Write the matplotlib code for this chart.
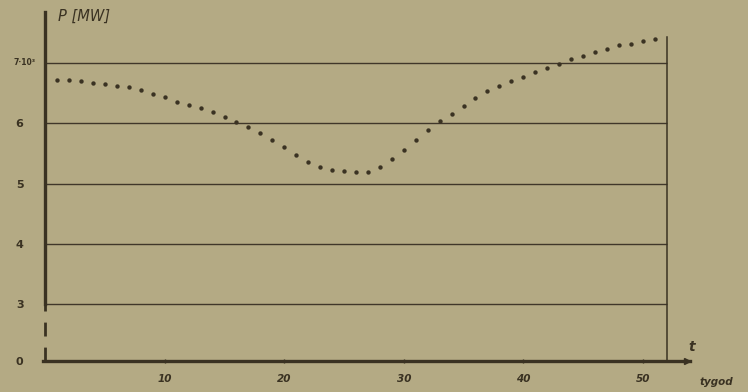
import numpy as np
import matplotlib
matplotlib.use("Agg")
import matplotlib.pyplot as plt
import matplotlib.transforms as mtransforms

# ---- data ----
weeks = list(range(1, 52))
power = [6.72, 6.71, 6.70, 6.67, 6.65, 6.62, 6.60, 6.55, 6.49, 6.43,
         6.35, 6.30, 6.25, 6.19, 6.10, 6.02, 5.93, 5.83, 5.72, 5.60,
         5.47, 5.36, 5.28, 5.22, 5.20, 5.19, 5.19, 5.27, 5.40, 5.56,
         5.72, 5.88, 6.03, 6.16, 6.28, 6.42, 6.54, 6.61, 6.70, 6.77,
         6.85, 6.91, 6.99, 7.06, 7.12, 7.18, 7.23, 7.30, 7.32, 7.37, 7.40]
y_ticks = [0, 3, 4, 5, 6, 7]
y_tick_labels = ["0", "3", "4", "5", "6", "7·10³"]
x_ticks = [10, 20, 30, 40, 50]
x_tick_labels = ["10", "20", "30", "40", "50"]
grid_levels = [3, 4, 5, 6, 7]
x_end = 52  # right border (week 52)

BG = "#b4aa84"
INK = "#3a3222"

# broken y axis: 0..3 compressed
def fwd(v):
    v = np.asarray(v, dtype=float)
    return np.where(v >= 3, v - 2, 1 - (3 - v) * 0.315)

def inv(d):
    d = np.asarray(d, dtype=float)
    return np.where(d >= 1, d + 2, 3 - (1 - d) / 0.315)

W, H = 748, 392
fig = plt.figure(figsize=(W / 100, H / 100), dpi=100, facecolor=BG)
ax = fig.add_axes([43 / W, 1 - 361 / H, (690 - 43) / W, (361 - 12) / H])
ax.set_facecolor(BG)
ax.set_yscale("function", functions=(fwd, inv))
ax.set_xlim(-0.19, 53.95)
ax.set_ylim(0, 7.846)

for s in ["top", "right", "left"]:
    ax.spines[s].set_visible(False)
ax.spines["bottom"].set_color(INK)
ax.spines["bottom"].set_linewidth(2.4)

# grid lines up to right border
for g in grid_levels:
    ax.plot([0, x_end], [g, g], color="#40372a", lw=1.0, solid_capstyle="butt", zorder=1)
# right border
ax.plot([x_end, x_end], [0, 7.43], color=INK, lw=1.1, zorder=1)

# left axis: solid above 3, broken below
ax.plot([0, 0], [3, 7.846], color=INK, lw=2.4, clip_on=False, zorder=3)
ax.plot([0, 0], [0, 3], color=INK, lw=2.0, dashes=(5, 4), clip_on=False, zorder=3)
# arrow on x axis
ax.plot([53.7], [0], marker=">", ms=5, color=INK, clip_on=False, zorder=4)

# data dots
ax.scatter(weeks, power, s=10, color=INK, zorder=5, linewidths=0)

# ticks
ax.set_yticks(y_ticks)
ax.set_yticklabels(y_tick_labels)
ax.yaxis.set_minor_locator(matplotlib.ticker.NullLocator())
ax.tick_params(axis="y", length=0, pad=14, labelsize=8, labelcolor=INK)
for lab in ax.get_yticklabels():
    lab.set_fontweight("bold")
last = ax.get_yticklabels()[-1]
last.set_fontsize(5.5)
last.set_transform(last.get_transform() + mtransforms.ScaledTranslation(12 / 100, 1 / 100, fig.dpi_scale_trans))

ax.set_xticks(x_ticks)
ax.set_xticklabels(x_tick_labels)
ax.tick_params(axis="x", length=3, direction="inout", width=1, color=INK,
               pad=8, labelsize=7.5, labelcolor=INK)
for lab in ax.get_xticklabels():
    lab.set_fontweight("bold")
    lab.set_fontstyle("italic")

# axis titles
fig.text(58 / W, 1 - 16 / H, "P [MW]", fontsize=10.5, style="italic", color=INK,
         ha="left", va="center")
fig.text(688 / W, 1 - 347 / H, "t", fontsize=10, style="italic", fontweight="bold",
         color=INK, ha="left", va="center")
fig.text(700 / W, 1 - 382 / H, "tygod", fontsize=7.5, style="italic", fontweight="bold",
         color=INK, ha="left", va="center")

fig.savefig("out.png", dpi=100, facecolor=BG)
